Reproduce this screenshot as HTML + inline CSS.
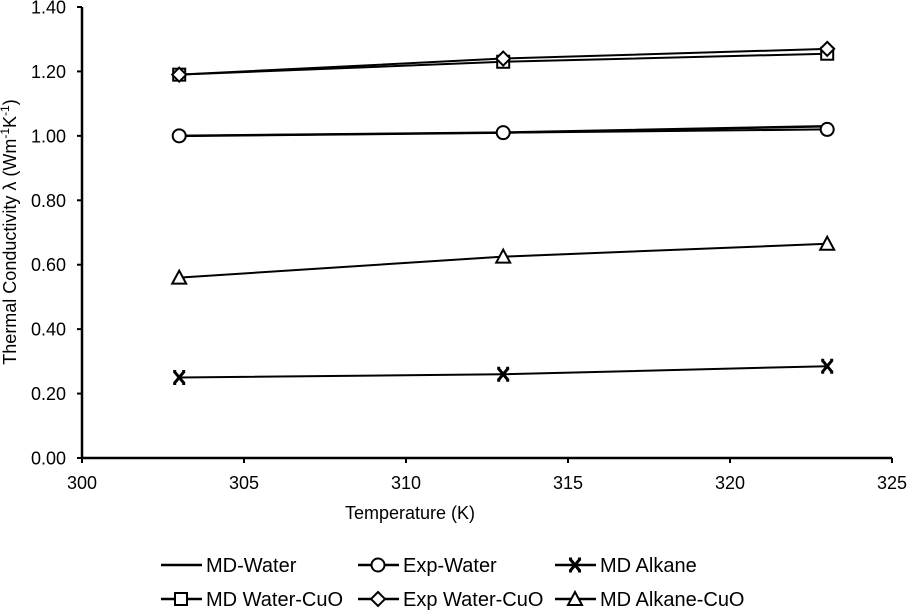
<!DOCTYPE html>
<html><head><meta charset="utf-8"><style>
body{margin:0;background:#fff;}
svg{display:block;font-family:"Liberation Sans",Arial,sans-serif;}
</style></head><body>
<svg id="chart" width="908" height="611" viewBox="0 0 908 611">
<g id="axes"></g>
<g id="series"></g>
<g id="legend"></g>
<text x="410" y="519" text-anchor="middle" font-size="18" fill="#000">Temperature (K)</text>
<text transform="translate(16,232) rotate(-90)" text-anchor="middle" font-size="18" fill="#000">Thermal Conductivity λ (Wm<tspan dy="-7" font-size="12">-1</tspan><tspan dy="7">K</tspan><tspan dy="-7" font-size="12">-1</tspan><tspan dy="7">)</tspan></text>
</svg>
<script>
const temps = [303, 313, 323];
const mdWater = [1.00, 1.01, 1.03];
const expWater = [1.00, 1.01, 1.02];
const mdAlkane = [0.25, 0.26, 0.285];
const mdWaterCuO = [1.19, 1.23, 1.255];
const expWaterCuO = [1.19, 1.24, 1.27];
const mdAlkaneCuO = [0.56, 0.625, 0.665];
const xTicks = [300, 305, 310, 315, 320, 325];
const yTicks = [0, 0.2, 0.4, 0.6, 0.8, 1.0, 1.2, 1.4];
const seriesNames = ["MD-Water","Exp-Water","MD Alkane","MD Water-CuO","Exp Water-CuO","MD Alkane-CuO"];

const NS="http://www.w3.org/2000/svg";
const X0=82,X1=892,Y0=458,Y1=7;
const xs=v=>X0+(v-300)/25*(X1-X0);
const ys=v=>Y0-v/1.4*(Y0-Y1);
function mk(tag,attrs,parent){const e=document.createElementNS(NS,tag);for(const k in attrs)e.setAttribute(k,attrs[k]);parent.appendChild(e);return e;}
const axes=document.getElementById('axes');
let a=mk('line',{x1:X0,y1:Y1,x2:X0,y2:Y0,stroke:'#000','stroke-width':2.5},axes);


a=mk('line',{x1:X0,y1:Y0,x2:X1,y2:Y0,stroke:'#000','stroke-width':2.5},axes);


yTicks.forEach(t=>{
 const y=ys(t);
 mk('line',{x1:X0-5,y1:y,x2:X0,y2:y,stroke:'#000','stroke-width':2},axes);
 const tx=mk('text',{x:X0-16,y:y+6.5,'text-anchor':'end','font-size':18},axes);
 tx.textContent=t.toFixed(2);
 
 
});
xTicks.forEach(t=>{
 const x=xs(t);
 mk('line',{x1:x,y1:Y0,x2:x,y2:Y0+5,stroke:'#000','stroke-width':2},axes);
 const tx=mk('text',{x:x,y:Y0+31,'text-anchor':'middle','font-size':18},axes);
 tx.textContent=t;
 
 
});
function marker(type,x,y,g){
 const s={stroke:'#000','stroke-width':2,fill:'#fff'};
 if(type==='circle')mk('circle',Object.assign({cx:x,cy:y,r:6.5},s),g);
 else if(type==='square')mk('rect',Object.assign({x:x-6,y:y-6,width:12,height:12},s),g);
 else if(type==='diamond')mk('polygon',Object.assign({points:`${x},${y-7} ${x+7},${y} ${x},${y+7} ${x-7},${y}`},s),g);
 else if(type==='triangle')mk('polygon',Object.assign({points:`${x},${y-7} ${x+7},${y+6} ${x-7},${y+6}`},s),g);
 else if(type==='x'){mk('path',{d:`M${x-5},${y-6}L${x+5},${y+6}M${x+5},${y-6}L${x-5},${y+6}M${x-6},${y-6}L${x-3},${y-6}M${x+3},${y-6}L${x+6},${y-6}M${x-6},${y+6}L${x-3},${y+6}M${x+3},${y+6}L${x+6},${y+6}`,stroke:'#000','stroke-width':3,fill:'none'},g);}
}
const seriesData=[mdWater,expWater,mdAlkane,mdWaterCuO,expWaterCuO,mdAlkaneCuO];
const markers=['none','circle','x','square','diamond','triangle'];
const widths=[2.5,2,2,2,2,2];
const sg=document.getElementById('series');
seriesData.forEach((d,i)=>{
 const g=mk('g',{},sg);
 
 
 mk('polyline',{points:d.map((v,j)=>xs(temps[j])+','+ys(v)).join(' '),fill:'none',stroke:'#000','stroke-width':widths[i]},g);
 if(markers[i]!=='none')d.forEach((v,j)=>marker(markers[i],xs(temps[j]),ys(v),g));
});
const lg=document.getElementById('legend');
const lx=[161,358,555],ly=[565,599];
seriesNames.forEach((n,i)=>{
 const x=lx[i%3],y=ly[Math.floor(i/3)];
 const g=mk('g',{},lg);
 
 
 mk('line',{x1:x,y1:y,x2:x+41,y2:y,stroke:'#000','stroke-width':2.5},g);
 if(markers[i]!=='none')marker(markers[i],x+20,y,g);
 const t=mk('text',{x:x+45,y:y+7,'font-size':20},g);
 t.textContent=n;
});
</script>
</body></html>
